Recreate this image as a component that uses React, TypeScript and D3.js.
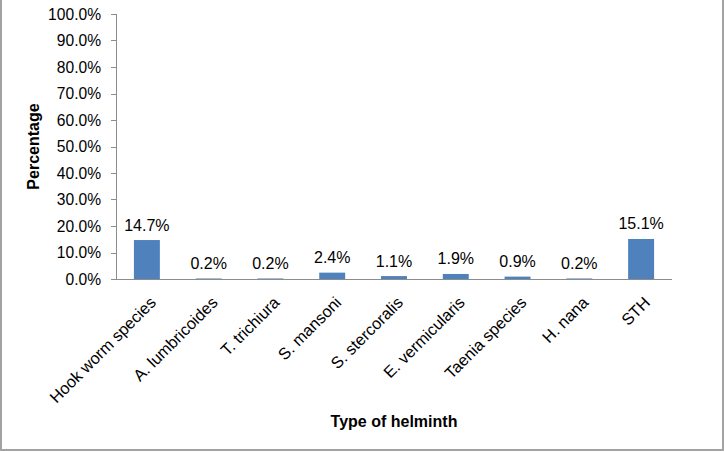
import React from "react";
import * as d3 from "d3";

const categories = [
  "Hook worm species",
  "A. lumbricoides",
  "T. trichiura",
  "S. mansoni",
  "S. stercoralis",
  "E. vermicularis",
  "Taenia species",
  "H. nana",
  "STH",
];
const values = [14.7, 0.2, 0.2, 2.4, 1.1, 1.9, 0.9, 0.2, 15.1];
const yTicks = [0, 10, 20, 30, 40, 50, 60, 70, 80, 90, 100];
const yTitle = "Percentage";
const xTitle = "Type of helminth";

const W = 724;
const H = 452;
const left = 116;
const right = 672;
const top = 14;
const bottom = 279;
const FONT = "Liberation Sans, Arial, sans-serif";

export default function App() {
  const x = d3.scaleBand<string>().domain(categories).range([left, right]).paddingInner(0.58).paddingOuter(0.29);
  const y = d3.scaleLinear().domain([0, 100]).range([bottom, top]);
  const axisColor = "#8c8c8c";
  return (
    <div style={{ position: "fixed", left: 0, top: 0 }}>
      <svg width={W} height={H} style={{ display: "block", background: "#fff" }}>
        <rect x={1} y={-1} width={722} height={451} fill="#fff" stroke="#a3a3a3" strokeWidth={2} />
        {yTicks.map((t) => (
          <g key={t}>
            <line x1={left - 5} x2={left} y1={Math.round(y(t)) + 0.5} y2={Math.round(y(t)) + 0.5} stroke={axisColor} />
            <text x={101} y={y(t)} dy="0.36em" textAnchor="end" fontFamily={FONT} fontSize={15.6} fill="#000">
              {t.toFixed(1) + "%"}
            </text>
          </g>
        ))}
        <line x1={left + 0.5} x2={left + 0.5} y1={top} y2={bottom} stroke={axisColor} />
        {values.map((v, i) => {
          const c = categories[i];
          const bx = x(c)!;
          return (
            <g key={c}>
              <rect x={bx} y={y(v)} width={x.bandwidth()} height={bottom - y(v)} fill="#4f81bd" />
              <text x={bx + x.bandwidth() / 2} y={y(v) - 9.5} textAnchor="middle" fontFamily={FONT} fontSize={16} fill="#000">
                {v.toFixed(1) + "%"}
              </text>
            </g>
          );
        })}
        <line x1={left} x2={right} y1={bottom + 0.5} y2={bottom + 0.5} stroke={axisColor} />
        {categories.map((c) => {
          const cx = x(c)! + x.bandwidth() / 2 + 2;
          const cy = bottom + 16.5;
          return (
            <text
              key={c}
              transform={`translate(${cx},${cy}) rotate(-45)`}
              textAnchor="end"
              dy="0.7em"
              fontFamily={FONT}
              fontSize={16.3}
              fill="#000"
            >
              {c}
            </text>
          );
        })}
        <text
          transform={`translate(33,${(top + bottom) / 2}) rotate(-90)`}
          textAnchor="middle"
          dy="0.35em"
          fontFamily={FONT}
          fontSize={16}
          fontWeight="bold"
        >
          {yTitle}
        </text>
        <text x={394} y={427} textAnchor="middle" fontFamily={FONT} fontSize={16} fontWeight="bold">
          {xTitle}
        </text>
      </svg>
    </div>
  );
}
